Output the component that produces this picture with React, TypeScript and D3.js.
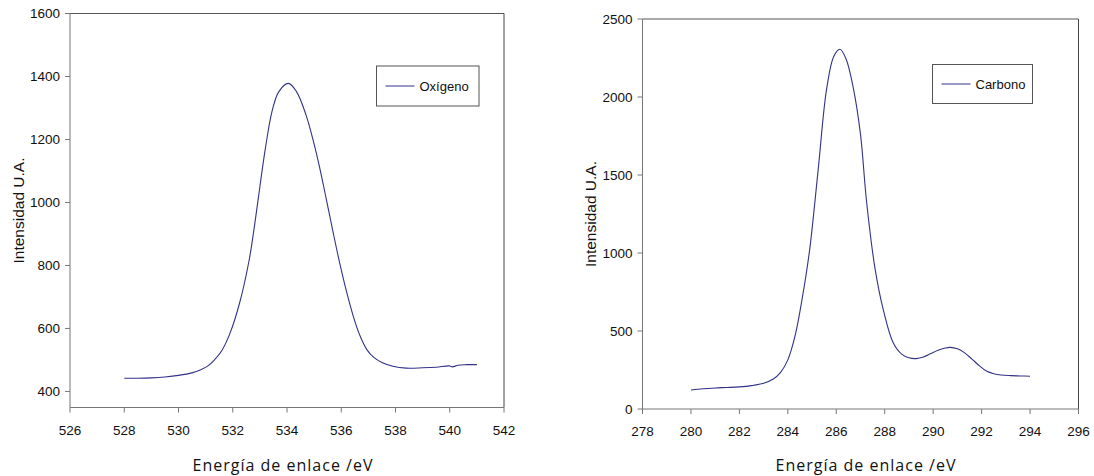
import React from "react";
import * as d3 from "d3";

// Oxígeno (O 1s) spectrum
const oxygenEnergy = [528.0, 528.5, 529.0, 529.5, 530.0, 530.5, 530.8, 531.1, 531.3, 531.6, 531.9, 532.25, 532.6, 532.8, 533.0, 533.2, 533.45, 533.7, 534.05, 534.35, 534.7, 535.0, 535.2, 535.45, 535.7, 535.95, 536.2, 536.45, 536.7, 536.95, 537.2, 537.5, 537.9, 538.4, 539.0, 539.5, 540.0, 540.1, 540.3, 540.6, 541.0];
const oxygenIntensity = [442, 442, 443, 446, 451, 459, 468, 482, 498, 530, 585, 680, 815, 925, 1050, 1170, 1290, 1352, 1378, 1352, 1278, 1185, 1112, 1010, 905, 805, 715, 637, 575, 532, 508, 492, 480, 474, 475, 477, 481, 478, 483, 485, 485];

// Carbono (C 1s) spectrum
const carbonEnergy = [280.0, 280.5, 281.0, 281.5, 282.0, 282.5, 283.0, 283.4, 283.7, 284.0, 284.3, 284.6, 284.9, 285.25, 285.6, 285.9, 286.15, 286.4, 286.7, 287.0, 287.25, 287.6, 287.95, 288.35, 288.7, 289.0, 289.3, 289.6, 289.9, 290.2, 290.5, 290.7, 291.0, 291.3, 291.6, 291.9, 292.2, 292.5, 292.8, 293.2, 293.6, 294.0];
const carbonIntensity = [122, 130, 135, 138, 142, 150, 165, 192, 235, 315, 470, 715, 1020, 1530, 2050, 2262, 2306, 2245, 2060, 1760, 1330, 900, 630, 425, 352, 328, 323, 333, 355, 377, 391, 395, 386, 360, 320, 278, 243, 226, 218, 214, 212, 210];

const oxygenXTicks = [526, 528, 530, 532, 534, 536, 538, 540, 542];
const oxygenYTicks = [400, 600, 800, 1000, 1200, 1400, 1600];
const carbonXTicks = [278, 280, 282, 284, 286, 288, 290, 292, 294, 296];
const carbonYTicks = [0, 500, 1000, 1500, 2000, 2500];

const yTitle = "Intensidad U.A.";
const xTitle = "Energía de enlace /eV";

const LINE = "#32328a";
const TICK_FONT = "'Liberation Sans', Arial, sans-serif";

type PanelProps = {
  xs: number[];
  ys: number[];
  xDomain: [number, number];
  yDomain: [number, number];
  xTicks: number[];
  yTicks: number[];
  left: number;
  right: number;
  top: number;
  bottom: number;
  label: string;
  legend: { x: number; y: number; w: number; h: number };
  yTitleX: number;
  xTitleX: number;
};

function Panel(p: PanelProps) {
  const x = d3.scaleLinear().domain(p.xDomain).range([p.left, p.right]);
  const y = d3.scaleLinear().domain(p.yDomain).range([p.bottom, p.top]);
  const data = p.xs.map((v, i) => [v, p.ys[i]] as [number, number]);
  const line = d3
    .line<[number, number]>()
    .x((d) => x(d[0]))
    .y((d) => y(d[1]))
    .curve(d3.curveCatmullRom.alpha(0.5));
  const midY = (p.top + p.bottom) / 2;
  return (
    <g>
      {/* frame: top and right */}
      <line x1={p.left} x2={p.right} y1={p.top} y2={p.top} stroke="#555" />
      <line x1={p.right} x2={p.right} y1={p.top} y2={p.bottom} stroke="#444" />
      {/* axes */}
      <line x1={p.left} x2={p.left} y1={p.top} y2={p.bottom} stroke="#777" />
      <line x1={p.left} x2={p.right} y1={p.bottom} y2={p.bottom} stroke="#777" />
      {p.yTicks.map((t) => (
        <g key={"y" + t}>
          <line x1={p.left - 5} x2={p.left} y1={y(t)} y2={y(t)} stroke="#777" />
          <text
            x={p.left - 10}
            y={y(t)}
            dy="0.36em"
            textAnchor="end"
            fontFamily={TICK_FONT}
            fontSize={13.5}
            fill="#111"
          >
            {t}
          </text>
        </g>
      ))}
      {p.xTicks.map((t) => (
        <g key={"x" + t}>
          <line x1={x(t)} x2={x(t)} y1={p.bottom} y2={p.bottom + 5} stroke="#777" />
          <text
            x={x(t)}
            y={p.bottom + 27}
            textAnchor="middle"
            fontFamily={TICK_FONT}
            fontSize={13.5}
            fill="#111"
          >
            {t}
          </text>
        </g>
      ))}
      <path d={line(data) || ""} fill="none" stroke={LINE} strokeWidth={1.1} />
      {/* legend */}
      <rect
        x={p.legend.x}
        y={p.legend.y}
        width={p.legend.w}
        height={p.legend.h}
        fill="#fff"
        stroke="#555"
      />
      <line
        x1={p.legend.x + 9}
        x2={p.legend.x + 38}
        y1={p.legend.y + p.legend.h / 2}
        y2={p.legend.y + p.legend.h / 2}
        stroke={LINE}
      />
      <text
        x={p.legend.x + 43}
        y={p.legend.y + p.legend.h / 2}
        dy="0.36em"
        fontFamily={TICK_FONT}
        fontSize={13}
        fill="#111"
      >
        {p.label}
      </text>
      {/* titles */}
      <text
        transform={`translate(${p.yTitleX},${midY}) rotate(-90)`}
        textAnchor="middle"
        fontFamily={TICK_FONT}
        fontSize={15.5}
        fill="#111"
      >
        {yTitle}
      </text>
      <text
        x={p.xTitleX}
        y={471}
        textAnchor="middle"
        fontFamily="'Open Sans', 'Noto Sans', sans-serif"
        fontSize={16}
        letterSpacing={1}
        fill="#111"
      >
        {xTitle}
      </text>
    </g>
  );
}

export default function App() {
  return (
    <div style={{ position: "absolute", left: 0, top: 0 }}>
      <svg width={1094} height={476} style={{ display: "block", background: "#fff" }}>
        <Panel
          xs={oxygenEnergy}
          ys={oxygenIntensity}
          xDomain={[526, 542]}
          yDomain={[349, 1600]}
          xTicks={oxygenXTicks}
          yTicks={oxygenYTicks}
          left={70}
          right={504}
          top={13.5}
          bottom={407.5}
          label="Oxígeno"
          legend={{ x: 376.5, y: 66, w: 102.5, h: 40 }}
          yTitleX={24}
          xTitleX={283}
        />
        <Panel
          xs={carbonEnergy}
          ys={carbonIntensity}
          xDomain={[278, 296]}
          yDomain={[0, 2500]}
          xTicks={carbonXTicks}
          yTicks={carbonYTicks}
          left={642.5}
          right={1078.5}
          top={19}
          bottom={409}
          label="Carbono"
          legend={{ x: 932.5, y: 64.5, w: 100, h: 39 }}
          yTitleX={596}
          xTitleX={866}
        />
      </svg>
    </div>
  );
}
